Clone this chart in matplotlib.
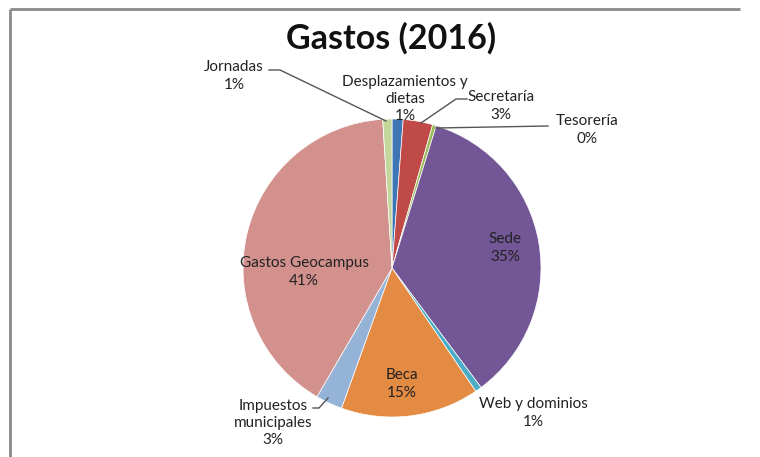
import matplotlib
matplotlib.use("Agg")
import matplotlib.pyplot as plt

categories = ["Desplazamientos y\ndietas", "Secretaría", "Tesorería", "Sede",
              "Web y dominios", "Beca", "Impuestos\nmunicipales",
              "Gastos Geocampus", "Jornadas"]
values = [1.2, 3.2, 0.4, 35.0, 0.7, 15.0, 2.9, 40.6, 1.0]
colors = ["#3E75B5", "#BF4A47", "#9BBB59", "#735696", "#4BACC6",
          "#E38A43", "#95B3D7", "#D3918E", "#C3D69B"]
title = "Gastos (2016)"

W, H = 760, 457
fig = plt.figure(figsize=(W / 100, H / 100), dpi=100)
fig.patch.set_facecolor("white")
ax = fig.add_axes([0, 0, 1, 1])

def Y(y):
    return H - y

cx, cy, r = 392, 268, 149
ax.pie(values, colors=colors, startangle=90, counterclock=False,
       center=(cx, Y(cy)), radius=r,
       wedgeprops=dict(edgecolor="white", linewidth=0.5))
ax.set_xlim(0, W)
ax.set_ylim(0, H)
ax.set_aspect("equal")
ax.axis("off")

# border (top and left)
ax.plot([9.5, 740], [Y(8.5), Y(8.5)], color="#8a8a8a", lw=2,
        solid_capstyle="butt", clip_on=False)
ax.plot([9.5, 9.5], [Y(8.5), -5], color="#8a8a8a", lw=2,
        solid_capstyle="butt", clip_on=False)

font = "Lato"
fs = 11
ax.text(391, Y(38), title, ha="center", va="center", fontsize=24.5,
        fontweight="bold", family=font, color="#111111")

pct = [f"{round(v)}%" for v in values]
label_pos = [(405, 99), (501, 106), (587, 130), (505, 248), (533, 413),
             (402, 384), (273, 423), (304, 272), (234, 76)]
for name, p, (x, y) in zip(categories, pct, label_pos):
    ax.text(x, Y(y), f"{name}\n{p}", ha="center", va="center", fontsize=fs,
            family=font, color="#222222", linespacing=1.3)

leaders = [
    [(269, 70), (280, 70), (386, 121)],     # Jornadas
    [(467, 99), (456, 99), (421, 123)],     # Secretaría
    [(548, 126), (436, 128)],               # Tesorería
    [(313, 408), (319, 408), (328, 398)],   # Impuestos
]
for pts in leaders:
    xs = [p[0] for p in pts]
    ys = [Y(p[1]) for p in pts]
    ax.plot(xs, ys, color="#555555", lw=1)

fig.savefig("out.png", dpi=100, facecolor="white")
